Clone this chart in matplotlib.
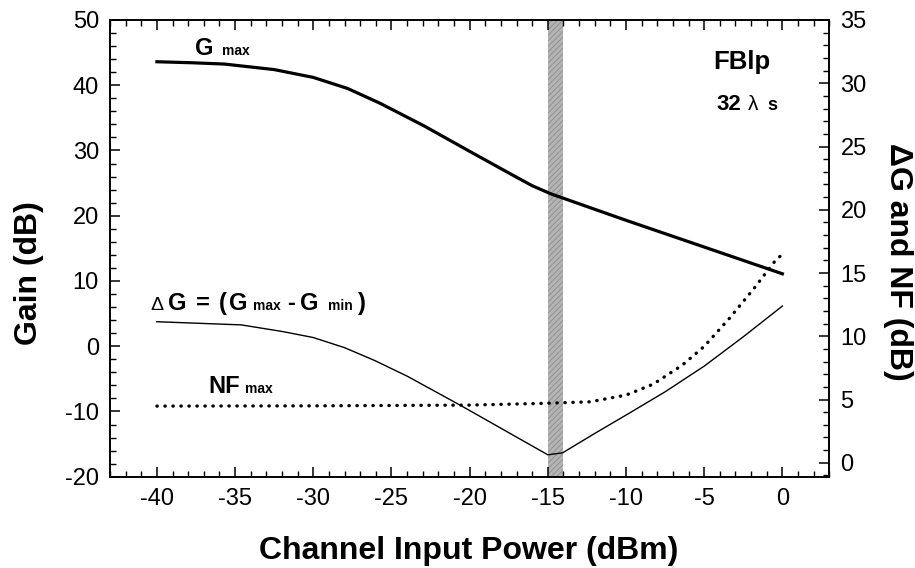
"""
Gain, gain excursion and noise figure versus channel input power (FBlp, 32 channels)
"""

import matplotlib
matplotlib.use('Agg')
import matplotlib.pyplot as plt
from matplotlib.ticker import MultipleLocator

plt.rcParams['font.family'] = ['Liberation Sans', 'DejaVu Sans']
plt.rcParams['axes.unicode_minus'] = False
plt.rcParams['hatch.linewidth'] = 0.6

# maximum gain (left axis, dB)
power_g = [-40, -37.8, -35.7, -32.5, -30, -27.8, -25.7, -22.9, -19.8, -17, -16, -14.8,
           -10, -5, 0]
gain_max = [43.6, 43.45, 43.25, 42.4, 41.2, 39.5, 37.2, 33.75, 29.6, 25.9, 24.6, 23.35,
            19.3, 15.2, 11.1]

# gain excursion Gmax - Gmin (right axis, dB)
power_dg = [-40, -34.6, -31.9, -30, -28, -26.1, -24, -21.9, -20.5, -17.6, -15, -14.05,
            -12, -10, -7.5, -5, -2.5, 0]
delta_g = [11.15, 10.9, 10.36, 9.9, 9.1, 8.1, 6.85, 5.43, 4.48, 2.45, 0.63, 0.79,
           2.32, 3.77, 5.61, 7.64, 9.96, 12.39]

# maximum noise figure (right axis, dB)
power_nf = [-40, -30, -20, -15.5, -12.3, -10, -8.25, -6.4, -5, -3.4, -1.9, -0.5, 0]
nf_max = [4.48, 4.5, 4.56, 4.69, 4.82, 5.35, 6.22, 7.72, 9.2, 11.4, 13.65, 15.9, 16.5]

# highlighted operating band (dBm)
band = [-15, -14]

W, H = 915, 568
fig = plt.figure(figsize=(W / 100, H / 100), dpi=100)
ax = fig.add_axes([110 / W, 1 - 476.7 / H, 719.3 / W, 456.7 / H])
ax2 = ax.twinx()

ax.axvspan(band[0], band[1], facecolor='#b4b4b4', edgecolor='#8c8c8c',
           hatch='//////', linewidth=0, zorder=0)

ax.plot(power_g, gain_max, color='black', lw=2.3, solid_joinstyle='round')
ax2.plot(power_dg, delta_g, color='black', lw=1.0, solid_joinstyle='round')
ax2.plot(power_nf, nf_max, color='black', lw=2.4, linestyle=(0, (0.1, 2.3)),
         dash_capstyle='round')

ax.set_xlim(-43, 3)
ax.set_ylim(-20, 50)
ax2.set_ylim(-1.1, 35)

ax.xaxis.set_major_locator(MultipleLocator(5))
ax.xaxis.set_minor_locator(MultipleLocator(1))
ax.yaxis.set_major_locator(MultipleLocator(10))
ax.yaxis.set_minor_locator(MultipleLocator(2))
ax2.yaxis.set_major_locator(MultipleLocator(5))
ax2.yaxis.set_minor_locator(MultipleLocator(1))
ax.set_xticks(range(-40, 1, 5))

ax.tick_params(which='both', direction='in', top=True, right=False, labelsize=17, pad=8)
ax.tick_params(which='major', length=7, width=1.1)
ax.tick_params(which='minor', length=4, width=1.0)
ax2.tick_params(which='both', direction='in', labelsize=17, pad=8)
ax2.tick_params(which='major', length=7, width=1.1)
ax2.tick_params(which='minor', length=4, width=1.0)
ax2.set_yticks(range(0, 36, 5))

for sp in ax.spines.values():
    sp.set_linewidth(1.2)
for sp in ax2.spines.values():
    sp.set_linewidth(1.2)

ax.set_xlabel('Channel Input Power (dBm)', fontsize=23, fontweight='bold', va='baseline')
ax.xaxis.set_label_coords(0.499, -0.180)
ax.set_ylabel('Gain (dB)', fontsize=23, fontweight='bold', va='center')
ax.yaxis.set_label_coords(-0.112, 0.446)
ax2.set_ylabel('\u0394G and NF (dB)', fontsize=23, fontweight='bold', va='center',
               rotation=270)
ax2.yaxis.set_label_coords(1.0955, 0.470)


def put(x, y, s, size, weight='bold'):
    # place text by pixel position of its left edge and baseline
    fig.text(x / W, 1 - y / H, s, fontsize=size, fontweight=weight,
             ha='left', va='baseline')


put(195, 55, 'G', 17)
put(222, 55, 'max', 10)

put(713, 69, 'FBlp', 18.5)
put(716, 110, '32', 16)
put(748, 110, '\u03bb', 15, 'normal')
put(767, 110, 's', 13)

put(150, 310, '\u0394', 14, 'normal')
put(168, 310, 'G', 17)
put(196, 310, '=', 17)
put(219, 310, '(', 17)
put(229, 310, 'G', 17)
put(253, 310, 'max', 10)
put(287, 310, '-', 17)
put(300, 310, 'G', 17)
put(328, 310, 'min', 10)
put(358, 310, ')', 17)

put(208, 393, 'NF', 17)
put(245, 393, 'max', 10)

fig.savefig('out.png', dpi=100)
